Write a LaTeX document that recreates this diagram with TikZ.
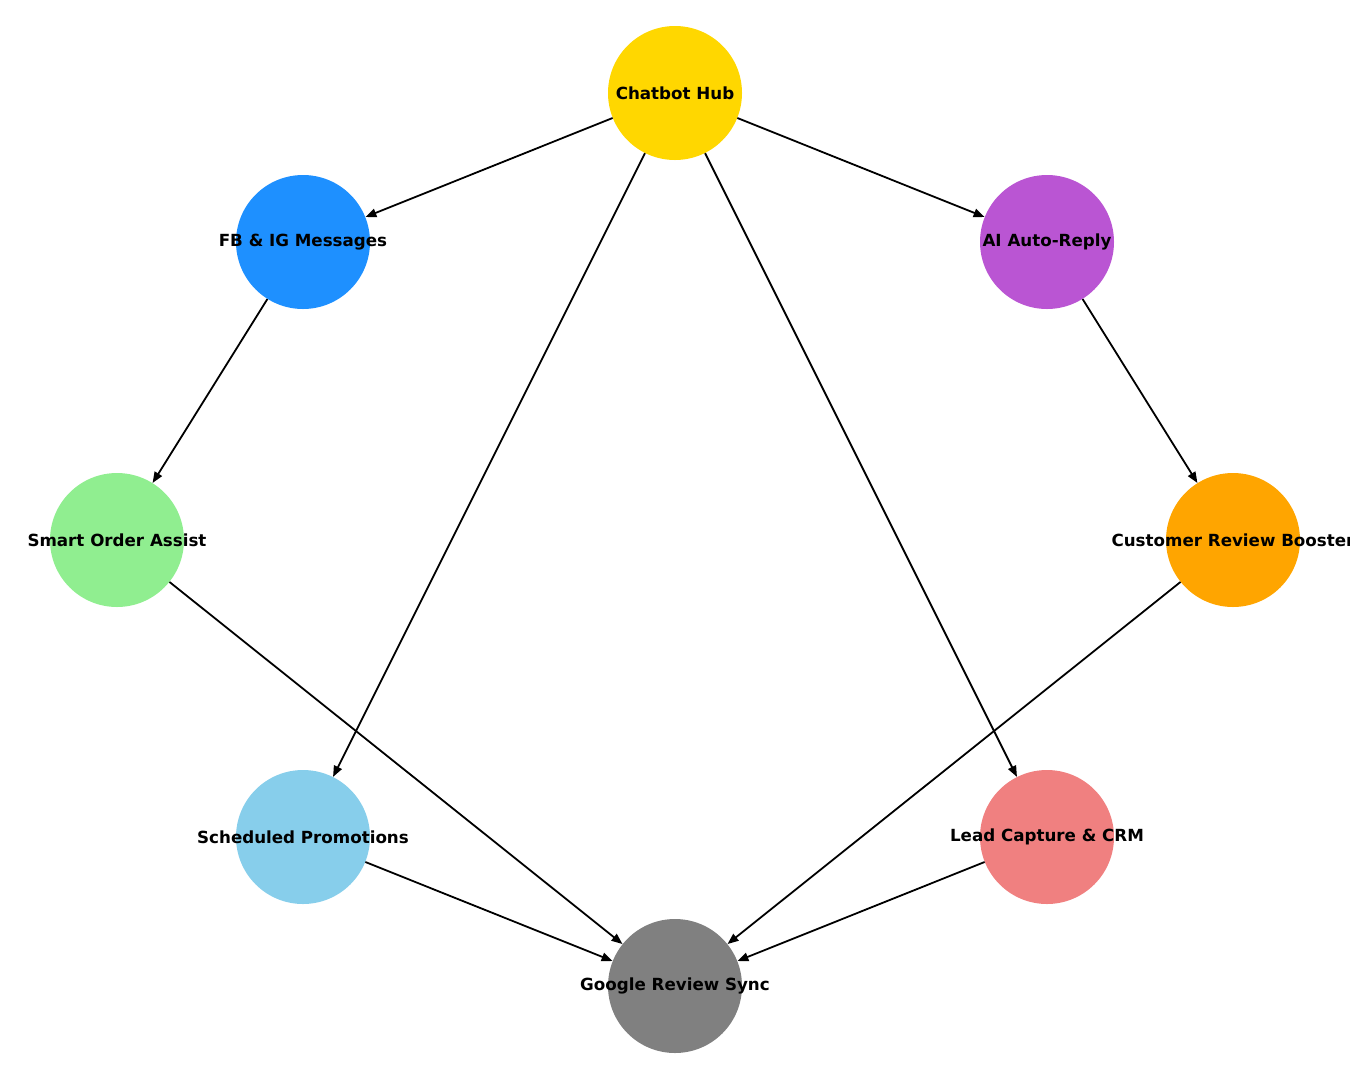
\documentclass[tikz,border=0pt]{standalone}
\usepackage{fontspec}
\setmainfont{DejaVu Sans}
\usetikzlibrary{arrows.meta}
\definecolor{cgold}{HTML}{FFD700}
\definecolor{cdodger}{HTML}{1E90FF}
\definecolor{corchid}{HTML}{BA55D3}
\definecolor{cgreen}{HTML}{90EE90}
\definecolor{corange}{HTML}{FFA500}
\definecolor{csky}{HTML}{87CEEB}
\definecolor{ccoral}{HTML}{F08080}
\definecolor{cgray}{HTML}{808080}
\tikzset{
  bubble/.style={circle, minimum size=134pt, inner sep=0pt, draw=none},
  lbl/.style={font=\bfseries\fontsize{16.7}{19}\selectfont, text=black, inner sep=0pt},
  edge/.style={line width=1.8pt, draw=black, -{Triangle[length=11pt,width=8.5pt]}}
}
\begin{document}
\begin{tikzpicture}[x=1pt,y=-1pt]
\useasboundingbox (0,0) rectangle (1350,1080);
\clip (0,0) rectangle (1350,1080);
\node[bubble, fill=cgold] (hub) at (675,93) {};
\node[bubble, fill=cdodger] (fb) at (303,242) {};
\node[bubble, fill=corchid] (ai) at (1047,242) {};
\node[bubble, fill=cgreen] (smart) at (117,540) {};
\node[bubble, fill=corange] (cust) at (1233,540) {};
\node[bubble, fill=csky] (sched) at (303,837) {};
\node[bubble, fill=ccoral] (lead) at (1047,837) {};
\node[bubble, fill=cgray] (google) at (675,986) {};

\draw[edge] (hub) -- (fb);
\draw[edge] (hub) -- (ai);
\draw[edge] (hub) -- (sched);
\draw[edge] (hub) -- (lead);
\draw[edge] (fb) -- (smart);
\draw[edge] (ai) -- (cust);
\draw[edge] (smart) -- (google);
\draw[edge] (cust) -- (google);
\draw[edge] (sched) -- (google);
\draw[edge] (lead) -- (google);

\node[lbl] (thub) at (hub.center) {Chatbot Hub};
\node[lbl] (tfb) at (fb.center) {FB \& IG Messages};
\node[lbl] (tai) at (ai.center) {AI Auto-Reply};
\node[lbl] (tsmart) at (smart.center) {Smart Order Assist};
\node[lbl] (tcust) at (cust.center) {Customer Review Booster};
\node[lbl] (tsched) at (sched.center) {Scheduled Promotions};
\node[lbl] (tlead) at (lead.center) {Lead Capture \& CRM};
\node[lbl] (tgoogle) at (google.center) {Google Review Sync};
\end{tikzpicture}
\end{document}
